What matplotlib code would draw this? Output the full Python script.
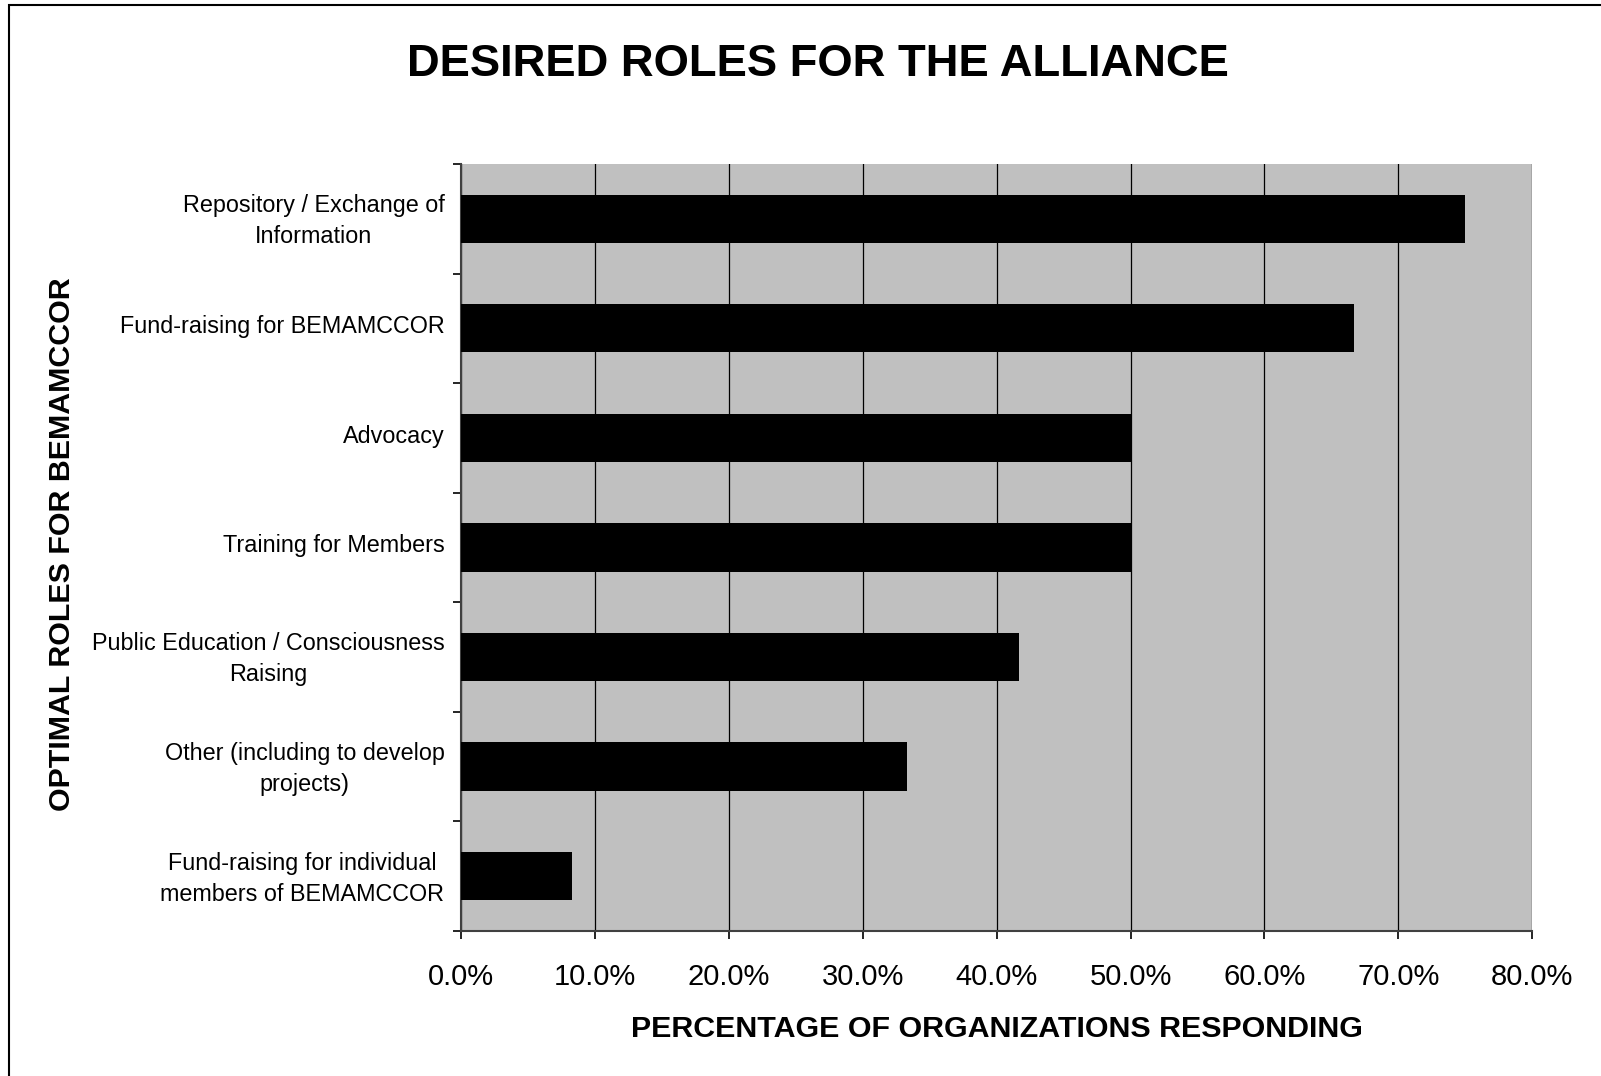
import matplotlib
matplotlib.use('Agg')
import matplotlib.pyplot as plt
import matplotlib.patches as mpatches
import matplotlib.transforms as mtransforms
import numpy as np

plt.rcParams['font.family'] = ['Liberation Sans', 'DejaVu Sans']

# roles, top to bottom as shown
roles = ['Repository / Exchange of\nInformation',
         'Fund-raising for BEMAMCCOR',
         'Advocacy',
         'Training for Members',
         'Public Education / Consciousness\nRaising',
         'Other (including to develop\nprojects)',
         'Fund-raising for individual\nmembers of BEMAMCCOR']
pct = [75.0, 66.7, 50.0, 50.0, 41.7, 33.3, 8.3]
xticks = [0, 10, 20, 30, 40, 50, 60, 70, 80]

fig = plt.figure(figsize=(16.01, 10.76), dpi=100)
ax = fig.add_axes([0.288, 0.1348, 0.669, 0.7128])

# frame round the whole chart (cut off right and bottom like the original)
fig.patches.append(mpatches.Rectangle((0.0056, -0.02), 1.2, 1.0154,
                                      transform=fig.transFigure, fill=False,
                                      edgecolor='black', linewidth=1.5))

ypos = np.arange(len(roles))[::-1]
ax.set_facecolor('#c0c0c0')
ax.barh(ypos, pct, height=0.44, color='black', zorder=3)

ax.set_xlim(0, 80)
ax.set_ylim(-0.5, len(roles) - 0.5)
ax.set_xticks(xticks)
ax.set_xticklabels(['%.1f%%' % v for v in xticks], fontsize=21)
ax.xaxis.grid(True, color='black', linewidth=0.9, zorder=1)
ax.set_axisbelow(True)

# category labels between boundary ticks
ax.set_yticks(ypos)
ax.set_yticklabels(roles, fontsize=16.8, multialignment='center', linespacing=1.45)
ax.set_yticks(np.arange(-0.5, len(roles)), minor=True)
ax.tick_params(axis='y', which='major', length=0, pad=12)
ax.tick_params(axis='y', which='minor', length=6, width=1.2)
ax.tick_params(axis='x', length=6, width=1.2, pad=17)
# nudge the category labels up a little
shift = mtransforms.ScaledTranslation(0, 3 / 72, fig.dpi_scale_trans)
for lab in ax.get_yticklabels():
    lab.set_transform(lab.get_transform() + shift)

for s in ['top', 'right']:
    ax.spines[s].set_visible(False)
for s in ['left', 'bottom']:
    ax.spines[s].set_color('#404040')
    ax.spines[s].set_linewidth(1.5)

ax.set_xlabel('PERCENTAGE OF ORGANIZATIONS RESPONDING', fontsize=21.9,
              fontweight='bold', labelpad=17)
fig.text(0.039, 0.494, 'OPTIMAL ROLES FOR BEMAMCCOR', rotation=90, fontsize=21.9,
         fontweight='bold', ha='center', va='center')
fig.text(0.511, 0.940, 'DESIRED ROLES FOR THE ALLIANCE', fontsize=32.7,
         fontweight='bold', ha='center', va='center')

fig.savefig('out.png', dpi=100)
